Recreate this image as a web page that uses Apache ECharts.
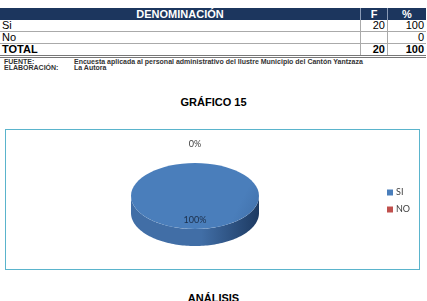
<!DOCTYPE html>
<html><head><meta charset="utf-8">
<script src="https://cdn.jsdelivr.net/npm/echarts@6/dist/echarts.min.js"></script>
<style>
html,body{margin:0;padding:0;background:#fff;width:427px;height:301px;overflow:hidden;font-family:"Liberation Sans",Arial,sans-serif;}
.abs{position:absolute;}
table{border-collapse:collapse;position:absolute;left:0;top:8px;width:426px;font-size:11px;}
td{padding:0 2px;height:11px;line-height:11px;}
.hd td{background:#1c365e;color:#fff;font-weight:bold;text-align:center;border-right:1px solid #8a9bb5;height:12px;}
.num{text-align:right;border-left:1px solid #aaa;}
.row td{border-bottom:1px solid #aaa;height:11px;}
.tot td{font-weight:bold;border-bottom:3px double #777;height:11px;}
.src{font-size:7px;font-weight:bold;color:#333;line-height:7px;}
#chart{position:absolute;left:5px;top:129px;width:415px;height:141px;border:1.5px solid #5ab4cc;box-sizing:border-box;}
</style></head>
<body>
<table>
<tr class="hd"><td style="width:356px">DENOMINACIÓN</td><td style="width:22px">F</td><td style="border-right:none">%</td></tr>
<tr class="row"><td>Si</td><td class="num" id="f0"></td><td class="num" id="p0"></td></tr>
<tr class="row"><td>No</td><td class="num" id="f1"></td><td class="num" id="p1"></td></tr>
<tr class="tot"><td>TOTAL</td><td class="num" id="ft"></td><td class="num" id="pt"></td></tr>
</table>
<div class="abs src" style="left:4px;top:58px">FUENTE:</div>
<div class="abs src" style="left:74px;top:58px">Encuesta aplicada al personal administrativo del Ilustre Municipio del Cantón Yantzaza</div>
<div class="abs src" style="left:4px;top:64px">ELABORACIÓN:</div>
<div class="abs src" style="left:74px;top:64px">La Autora</div>
<div class="abs" style="left:0;width:427px;top:96px;text-align:center;font-weight:bold;font-size:11px;">GRÁFICO 15</div>
<div id="chart"></div>
<div class="abs" style="left:0;width:427px;top:292px;text-align:center;font-weight:bold;font-size:11px;">ANÁLISIS</div>
<script>
var categories = ['SI', 'NO'];
var frequencies = [20, null];
var percents = [100, 0];
var totalF = 20, totalP = 100;

document.getElementById('f0').textContent = frequencies[0] == null ? '' : frequencies[0];
document.getElementById('f1').textContent = frequencies[1] == null ? '' : frequencies[1];
document.getElementById('p0').textContent = percents[0];
document.getElementById('p1').textContent = percents[1];
document.getElementById('ft').textContent = totalF;
document.getElementById('pt').textContent = totalP;

var colors = ['#4a7ebb', '#c0504d'];
var sideColors = [['#416ea6', '#1d3a62'], ['#a84542', '#6e2624']];
var total = percents.reduce(function (a, b) { return a + b; }, 0);
var CX = 189, CY = 66, RX = 64, RY = 33, DEPTH = 17;

function pt(th, dy) {
  return [CX + RX * Math.sin(th), CY - RY * Math.cos(th) + (dy || 0)];
}
function arc(a0, a1, dy) {
  var pts = [], n = Math.max(2, Math.ceil(Math.abs(a1 - a0) / 0.03));
  for (var i = 0; i <= n; i++) pts.push(pt(a0 + (a1 - a0) * i / n, dy));
  return pts;
}

function makeSeries(idx) {
  return {
    type: 'custom',
    name: categories[idx],
    coordinateSystem: 'none',
    itemStyle: { color: colors[idx] },
    data: [[percents[idx]]],
    renderItem: function (params, api) {
      var v = api.value(0);
      var before = 0;
      for (var k = 0; k < idx; k++) before += percents[k];
      var a0 = before / total * 2 * Math.PI;
      var a1 = (before + v) / total * 2 * Math.PI;
      var children = [];
      if (v > 0) {
        var s0 = Math.max(a0, Math.PI / 2), s1 = Math.min(a1, 3 * Math.PI / 2);
        if (s1 > s0) {
          var top = arc(s0, s1, 0), bot = arc(s1, s0, DEPTH);
          children.push({
            type: 'polygon', z2: 1,
            shape: { points: top.concat(bot) },
            style: { fill: new echarts.graphic.LinearGradient(1, 0, 0, 0, [
              { offset: 0, color: sideColors[idx][1] },
              { offset: 0.45, color: sideColors[idx][0] },
              { offset: 1, color: sideColors[idx][0] }
            ]) }
          });
        }
        var face;
        if (a1 - a0 >= 2 * Math.PI - 1e-6) {
          face = { type: 'ellipse', shape: { cx: CX, cy: CY, rx: RX, ry: RY } };
        } else {
          face = { type: 'polygon', shape: { points: [[CX, CY]].concat(arc(a0, a1, 0)) } };
        }
        face.z2 = 3;
        face.style = { fill: new echarts.graphic.LinearGradient(0, 0, 1, 1, [
          { offset: 0, color: colors[idx] },
          { offset: 0.8, color: colors[idx] },
          { offset: 1, color: idx === 0 ? '#3f6ea8' : colors[idx] }
        ]) };
        children.push(face);
      }
      var mid = (a0 + a1) / 2;
      var lp;
      if (v > 0) lp = [CX + RX * 0.7 * Math.sin(mid), CY - RY * 0.72 * Math.cos(mid)];
      else lp = [CX + RX * Math.sin(mid), CY - RY * Math.cos(mid) - 19];
      children.push({
        type: 'text', z2: 5,
        style: { x: lp[0], y: lp[1], text: v + '%', fill: v > 0 ? '#1c2f4a' : '#404040',
          font: '9px Lato, "Open Sans", sans-serif', align: 'center', verticalAlign: 'middle' }
      });
      return { type: 'group', children: children };
    }
  };
}

var chart = echarts.init(document.getElementById('chart'), null, { renderer: 'canvas' });
chart.setOption({
  animation: false,
  legend: {
    orient: 'vertical', left: 376, top: 53, itemWidth: 6, itemHeight: 6, itemGap: 8,
    icon: 'rect',
    textStyle: { fontSize: 9, color: '#404040', fontFamily: 'Lato, "Open Sans", sans-serif', padding: [0, 0, 0, -2] },
    data: categories
  },
  series: categories.map(function (c, i) { return makeSeries(i); })
});
</script>
</body></html>
